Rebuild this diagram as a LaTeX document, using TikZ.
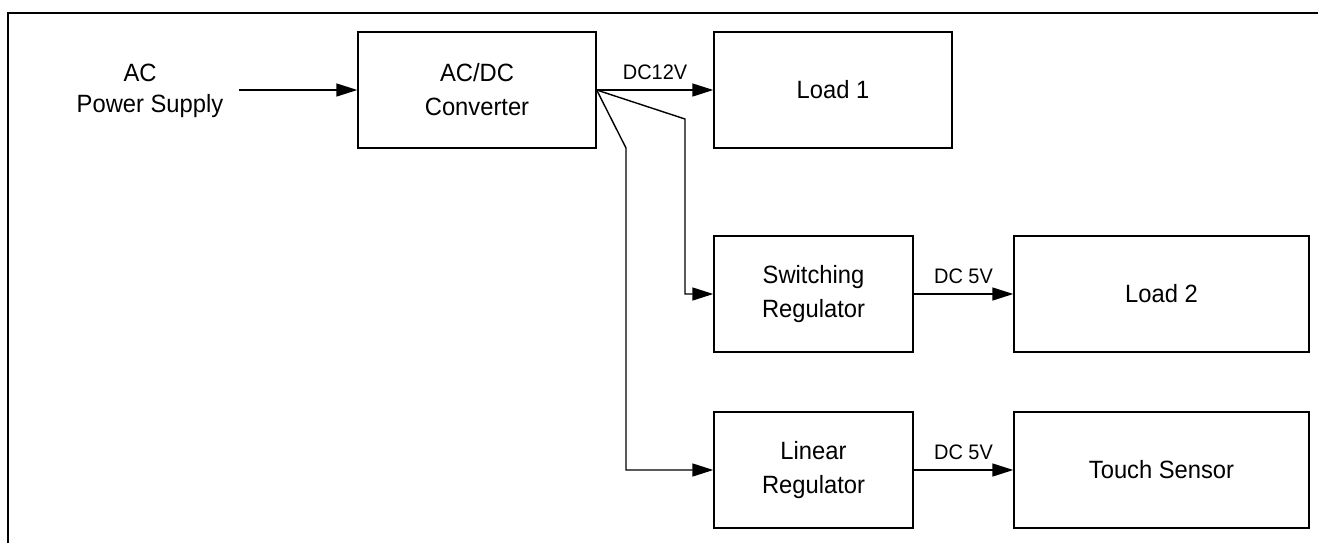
\documentclass[tikz,border=0pt]{standalone}
\usepackage{fontspec}
\setmainfont[FakeStretch=0.95]{Liberation Sans}
\usetikzlibrary{arrows.meta}
\tikzset{
  blk/.style={draw, line width=0.7pt, minimum height=58pt, inner sep=0pt, align=center,
              font=\fontsize{12.5}{17}\selectfont},
  blkw/.style={blk, minimum width=119pt},
  blkm/.style={blk, minimum width=99.5pt},
  blkl/.style={blk, minimum width=147.5pt},
  txt/.style={inner sep=0pt, font=\fontsize{12.5}{17}\selectfont},
  lbl/.style={inner sep=0pt, font=\fontsize{10.5}{12}\selectfont},
  conn/.style={line width=0.7pt},
  arr/.style={conn, -{Triangle[length=10.5pt,width=6.5pt]}},
  frame/.style={line width=1.2pt}
}
\begin{document}
\begin{tikzpicture}[x=0.5pt,y=-0.5pt]
\useasboundingbox (0,0) rectangle (1318,543);
\draw[frame] (8,543) -- (8,13) -- (1318,13);

\node[txt] (acl1) at (140,73) {AC};
\node[txt] (acl2) at (150,106) {Power Supply};
\coordinate (acin) at (239,90);

\node[blkw] (acdc) at (477,90) {AC/DC\\Converter};
\node[blkw] (load1) at (833,90) {Load 1};
\node[blkm] (sw) at (813.5,294) {Switching\\Regulator};
\node[blkl] (load2) at (1161.5,294) {Load 2};
\node[blkm] (lin) at (813.5,470) {Linear\\Regulator};
\node[blkl] (touch) at (1161.5,470) {Touch Sensor};

\coordinate (k1) at (685,119);
\coordinate (k2) at (626,148);

\draw[arr] (acin) -- (acdc.west);
\draw[arr] (acdc.east) -- (load1.west);
\draw[arr] (acdc.east) -- (k1) |- (sw.west);
\draw[arr] (acdc.east) -- (k2) |- (lin.west);
\draw[arr] (sw.east) -- (load2.west);
\draw[arr] (lin.east) -- (touch.west);

\node[lbl] (l12) at (655,72) {DC12V};
\node[lbl] (l5a) at (963.5,276) {DC 5V};
\node[lbl] (l5b) at (963.5,452) {DC 5V};
\end{tikzpicture}
\end{document}
